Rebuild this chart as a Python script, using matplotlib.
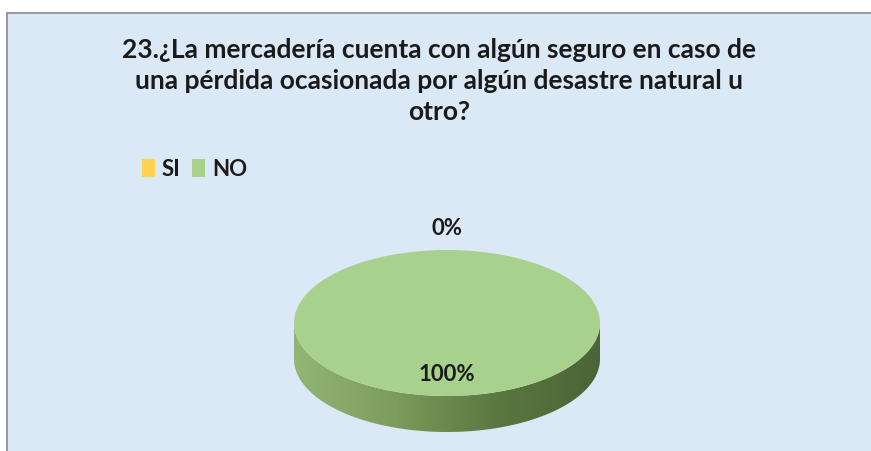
import numpy as np
import matplotlib.pyplot as plt
from matplotlib.patches import Rectangle, Polygon
from matplotlib.colors import LinearSegmentedColormap

title = ("23.¿La mercadería cuenta con algún seguro en caso de\n"
         "una pérdida ocasionada por algún desastre natural u\n"
         "otro?")
categories = ["SI", "NO"]
values = [0, 100]
colors = ["#ffd34f", "#a9d18e"]

FONT = "Lato"
W, H = 871, 451
fig = plt.figure(figsize=(W / 100, H / 100), dpi=100)
fig.patch.set_facecolor("white")

# chart area background with thin grey frame (left/top visible)
fig.patches.append(Rectangle((7 / W, -0.1), 1.2, 1.1 - 12.5 / H,
                             transform=fig.transFigure, facecolor="#dbe8f5",
                             edgecolor="#8e9296", lw=1.3, zorder=-5))

# title
fig.text(439 / W, 1 - 38 / H, title, ha="center", va="top", fontsize=19,
         fontweight="bold", family=FONT, color="#1a1a1a", linespacing=1.36)

# pie geometry in pixels
cx, cy, rx, ry, depth = 447, 323, 153, 73, 36
ax = fig.add_axes([0, 0, 1, 1])
ax.patch.set_alpha(0)
ax.set_zorder(2)
wedges, texts, autotexts = ax.pie(
    values, colors=colors, startangle=90, counterclock=True,
    autopct=lambda p: f"{p:.0f}%", pctdistance=0.7,
    wedgeprops=dict(linewidth=0, zorder=3),
    textprops=dict(fontsize=16, fontweight="bold", family=FONT, color="#1a1a1a"))
ax.set_aspect("auto")
ax.axis("off")

d = depth / ry
cmap = LinearSegmentedColormap.from_list("side", ["#93b575", "#7b9c5c", "#5a7740", "#4c6436"])
for w in wedges:
    t1, t2 = w.theta1, w.theta2
    for off in (0, 360):
        a = max(t1, 180 + off)
        b = min(t2, 360 + off)
        if b > a:
            ts = np.radians(np.linspace(a, b, 200))
            top = np.column_stack([np.cos(ts), np.sin(ts)])
            bot = np.column_stack([np.cos(ts[::-1]), np.sin(ts[::-1]) - d])
            poly = Polygon(np.vstack([top, bot]), closed=True, facecolor="none",
                           edgecolor="none", zorder=2)
            ax.add_patch(poly)
            grad = np.linspace(0, 1, 256).reshape(1, -1)
            im = ax.imshow(grad, cmap=cmap, extent=(-1, 1, -1 - d, 0),
                           aspect="auto", zorder=2)
            im.set_clip_path(poly)

# data labels
for w, t in zip(wedges, autotexts):
    if w.theta2 - w.theta1 < 1e-6:
        m = np.radians(w.theta1)
        t.set_position((1.3 * np.cos(m), 1.3 * np.sin(m)))
    t.set_zorder(5)

ax.set_aspect("auto")
ax.set_xlim(-cx / rx, (W - cx) / rx)
ax.set_ylim(-(H - cy) / ry, cy / ry)

leg = fig.legend(wedges, categories, ncol=2, frameon=False, loc="center left",
                 bbox_to_anchor=(122 / W, 1 - 169 / H), handlelength=0.6,
                 handleheight=0.9, handletextpad=0.3, columnspacing=0.5,
                 prop=dict(size=16, weight="bold", family=FONT))
for txt in leg.get_texts():
    txt.set_color("#1a1a1a")

fig.savefig("out.png", dpi=100)
